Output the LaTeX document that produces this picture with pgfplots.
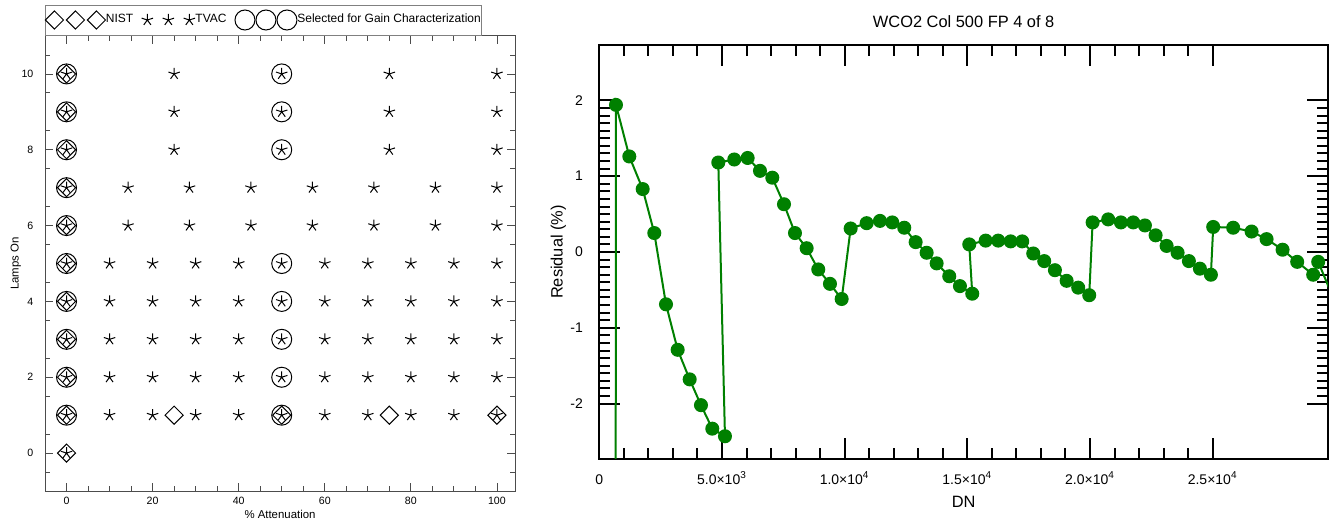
\documentclass[border=0pt]{standalone}
\usepackage{fontspec}
\setmainfont{Liberation Sans}
\usepackage{pgfplots}
\pgfplotsset{compat=1.18}
\definecolor{idlgreen}{RGB}{0,128,0}
\pgfplotsset{
  triple/.style={legend image code/.code={%
    \draw[##1] plot[only marks] coordinates {(0pt,0pt) (10.5pt,0pt) (21pt,0pt)};}},
}

\begin{document}
\begin{tikzpicture}
\path[use as bounding box] (0,0) rectangle (671.5pt,-259.5pt);

% left: test matrix
\begin{axis}[
  at={(22.5pt,-245.5pt)}, anchor=south west,
  scale only axis, width=235pt, height=227.5pt,
  xmin=-5, xmax=104.2, ymin=-1, ymax=11,
  xtick={0,20,...,100}, ytick={0,2,...,10},
  minor xtick={-5,0,...,100}, minor ytick={-0.5,0.5,...,10.5},
  major tick length=4pt, minor tick length=2.5pt,
  tick style={gray!60!black, line width=0.4pt},
  axis line style={gray!60!black, line width=0.5pt},
  /pgf/number format/assume math mode=true,
  tick label style={font=\fontsize{5.3}{6}\selectfont},
  xticklabel style={anchor=base, yshift=-6.5pt},
  yticklabel style={xshift=-2.3pt},
  xlabel={\% Attenuation},
  xlabel style={at={(axis description cs:0.5,0)}, anchor=base, yshift=-13.5pt, font=\fontsize{5.7}{6}\selectfont},
  ylabel={Lamps On},
  ylabel style={at={(axis description cs:-0.062,0.5)}, anchor=center, font=\fontsize{5.7}{6}\selectfont},
  legend columns=3,
  legend style={at={(0,1)}, anchor=south west, yshift=0.3pt, draw=gray, line width=0.4pt,
    font=\fontsize{6}{7}\selectfont, inner xsep=0pt, inner ysep=2.5pt,
    nodes={inner sep=0.2pt},
    /tikz/every even column/.append style={column sep=4pt}},
]
\addplot[only marks, mark=square, mark size=3.2pt, mark options={rotate=45}, black, line width=0.5pt, triple] coordinates {
 (0,0) (0,1) (0,2) (0,3) (0,4) (0,5) (0,6) (0,7) (0,8) (0,9) (0,10)
 (25,1) (50,1) (75,1) (100,1)};
\addlegendentry{NIST}
\addplot[only marks, mark=star, mark size=3pt, black, line width=0.5pt, triple] coordinates {
 (0,0)
 (0,1) (10,1) (20,1) (30,1) (40,1) (50,1) (60,1) (70,1) (80,1) (90,1) (100,1)
 (0,2) (10,2) (20,2) (30,2) (40,2) (50,2) (60,2) (70,2) (80,2) (90,2) (100,2)
 (0,3) (10,3) (20,3) (30,3) (40,3) (50,3) (60,3) (70,3) (80,3) (90,3) (100,3)
 (0,4) (10,4) (20,4) (30,4) (40,4) (50,4) (60,4) (70,4) (80,4) (90,4) (100,4)
 (0,5) (10,5) (20,5) (30,5) (40,5) (50,5) (60,5) (70,5) (80,5) (90,5) (100,5)
 (0,6) (14.29,6) (28.57,6) (42.86,6) (57.14,6) (71.43,6) (85.71,6) (100,6)
 (0,7) (14.29,7) (28.57,7) (42.86,7) (57.14,7) (71.43,7) (85.71,7) (100,7)
 (0,8) (25,8) (50,8) (75,8) (100,8)
 (0,9) (25,9) (50,9) (75,9) (100,9)
 (0,10) (25,10) (50,10) (75,10) (100,10)};
\addlegendentry{TVAC}
\addplot[only marks, mark=o, mark size=5pt, black, line width=0.5pt, triple] coordinates {
 (0,1) (0,2) (0,3) (0,4) (0,5) (0,6) (0,7) (0,8) (0,9) (0,10)
 (50,1) (50,2) (50,3) (50,4) (50,5) (50,8) (50,9) (50,10)};
\addlegendentry{Selected for Gain Characterization}
\end{axis}

% right: residuals
\begin{axis}[
  at={(299.65pt,-229.5pt)}, anchor=south west,
  scale only axis, width=364.35pt, height=207pt,
  xmin=0, xmax=29700, ymin=-2.73, ymax=2.73,
  scaled x ticks=false,
  xtick={0,5000,10000,15000,20000,25000},
  xticklabels={{0},{5.0×10\textsuperscript{3}},{1.0×10\textsuperscript{4}},{1.5×10\textsuperscript{4}},{2.0×10\textsuperscript{4}},{2.5×10\textsuperscript{4}}},
  minor x tick num=4,
  ytick={-2,-1,0,1,2}, yticklabels={-2,-1,0,1,2},
  minor y tick num=9,
  major tick length=10.5pt, minor tick length=5.5pt,
  tick style={black, line width=1pt},
  axis line style={black, line width=1pt},
  tick label style={font=\fontsize{7}{8}\selectfont},
  xticklabel style={anchor=base, yshift=-13pt},
  yticklabel style={xshift=-4.7pt},
  title={WCO2 Col 500 FP 4 of 8},
  title style={at={(axis description cs:0.5,1)}, anchor=base, yshift=2.5pt, font=\fontsize{8.2}{9}\selectfont},
  xlabel={DN},
  xlabel style={at={(axis description cs:0.5,0)}, anchor=base, yshift=-24.5pt, font=\fontsize{8.2}{9}\selectfont},
  ylabel={Residual (\%)},
  ylabel style={at={(axis description cs:-0.0563,0.5)}, anchor=center, font=\fontsize{8.2}{9}\selectfont},
]
\addplot[idlgreen, line width=1pt, mark=*, mark size=3pt, mark options={fill=idlgreen, draw=idlgreen}] coordinates {
 (650,-10) (680,1.94) (1223,1.26) (1768,0.83) (2241,0.25) (2718,-0.69)
 (3194,-1.29) (3683,-1.68) (4144,-2.02) (4605,-2.33) (5122,-2.43)
 (4850,1.18) (5501,1.22) (6047,1.24) (6549,1.07) (7050,0.98) (7527,0.63)
 (7975,0.25) (8451,0.05) (8924,-0.23) (9401,-0.42) (9878,-0.62)
 (10244,0.31) (10896,0.38) (11439,0.41) (11940,0.39) (12429,0.32)
 (12893,0.13) (13342,-0.01) (13749,-0.15) (14263,-0.32) (14699,-0.45) (15200,-0.55)
 (15078,0.10) (15746,0.15) (16259,0.15) (16765,0.14) (17237,0.14)
 (17686,-0.02) (18134,-0.12) (18570,-0.24) (19047,-0.38) (19519,-0.47) (19968,-0.57)
 (20106,0.39) (20741,0.43) (21259,0.39) (21761,0.39) (22238,0.35)
 (22673,0.22) (23122,0.08) (23570,-0.01) (24030,-0.12) (24479,-0.22) (24927,-0.30)
 (25021,0.33) (25835,0.32) (26585,0.27) (27196,0.17) (27848,0.03)
 (28444,-0.13) (29096,-0.30) (29300,-0.13) (29750,-0.48)};
\end{axis}
\end{tikzpicture}
\end{document}
